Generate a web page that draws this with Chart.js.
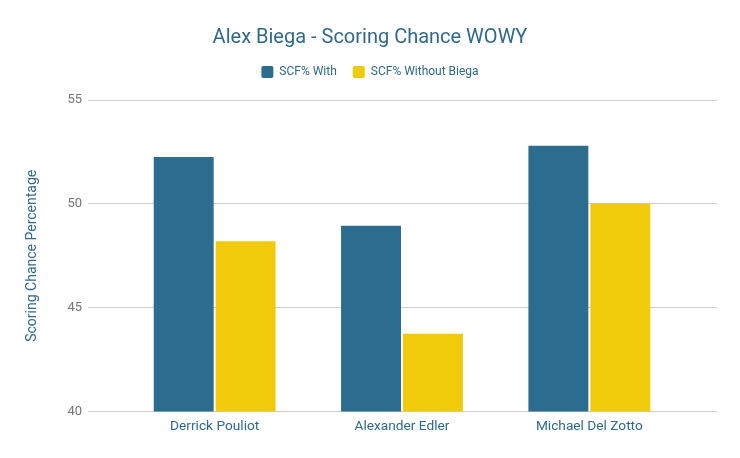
<!DOCTYPE html>
<html>
<head>
<meta charset="utf-8">
<script src="https://cdn.jsdelivr.net/npm/chart.js@4/dist/chart.umd.min.js"></script>
<style>
    html, body { margin: 0; padding: 0; background: #fff; }
    #wrap { width: 740px; height: 458px; }
</style>
</head>
<body>
<div id="wrap"><canvas id="wowyChart"></canvas></div>
<script>
// Scoring chance data
const players = ['Derrick Pouliot', 'Alexander Edler', 'Michael Del Zotto'];
const scfWith = [52.25, 48.95, 52.8];
const scfWithout = [48.2, 43.75, 50.0];
const yTicks = [40, 45, 50, 55];

const blue = '#2b6c8f';
const yellow = '#f1cb0b';
const textBlue = '#2f6a8c';

Chart.defaults.font.family = 'Roboto, "Noto Sans", sans-serif';

// extra room under the legend
const legendMargin = {
    id: 'legendMargin',
    beforeInit(chart) {
        const fit = chart.legend.fit;
        chart.legend.fit = function () {
            fit.bind(chart.legend)();
            this.height += 12;
        };
    }
};

const ctx = document.getElementById('wowyChart').getContext('2d');
new Chart(ctx, {
    type: 'bar',
    data: {
        labels: players,
        datasets: [
            {
                label: 'SCF% With',
                data: scfWith,
                backgroundColor: blue,
                barPercentage: 0.968,
                categoryPercentage: 0.661
            },
            {
                label: 'SCF% Without Biega',
                data: scfWithout,
                backgroundColor: yellow,
                barPercentage: 0.968,
                categoryPercentage: 0.661
            }
        ]
    },
    plugins: [legendMargin],
    options: {
        responsive: true,
        maintainAspectRatio: false,
        animation: false,
        layout: {
            padding: { left: 0, right: 0, top: 0, bottom: 16 }
        },
        plugins: {
            title: {
                display: true,
                text: 'Alex Biega - Scoring Chance WOWY',
                color: textBlue,
                font: { size: 20, weight: 'normal' },
                padding: { top: 26, bottom: 0 }
            },
            legend: {
                labels: {
                    color: textBlue,
                    font: { size: 12 },
                    boxWidth: 12,
                    boxHeight: 12,
                    useBorderRadius: true,
                    borderRadius: 2,
                    padding: 16
                }
            },
            tooltip: { enabled: false }
        },
        scales: {
            x: {
                grid: { display: false, drawTicks: false },
                border: { display: false },
                ticks: {
                    color: textBlue,
                    font: { size: 13.7 },
                    padding: 7
                }
            },
            y: {
                min: 40,
                max: 55,
                afterBuildTicks: axis => { axis.ticks = yTicks.map(v => ({ value: v })); },
                afterFit: axis => { axis.width = 121; },
                grid: {
                    color: '#cccccc',
                    tickColor: '#cccccc',
                    tickLength: 33
                },
                border: { display: false },
                ticks: {
                    color: '#757575',
                    font: { size: 13 },
                    padding: 6
                },
                title: {
                    display: true,
                    text: 'Scoring Chance Percentage',
                    color: textBlue,
                    font: { size: 14 },
                    padding: { top: 24, bottom: 20 }
                }
            },
            y2: {
                position: 'right',
                min: 40,
                max: 55,
                afterBuildTicks: axis => { axis.ticks = yTicks.map(v => ({ value: v })); },
                afterFit: axis => { axis.width = 57; },
                grid: {
                    drawOnChartArea: false,
                    tickColor: '#cccccc',
                    tickLength: 34
                },
                border: { display: false },
                ticks: { display: false }
            }
        }
    }
});
</script>
</body>
</html>
